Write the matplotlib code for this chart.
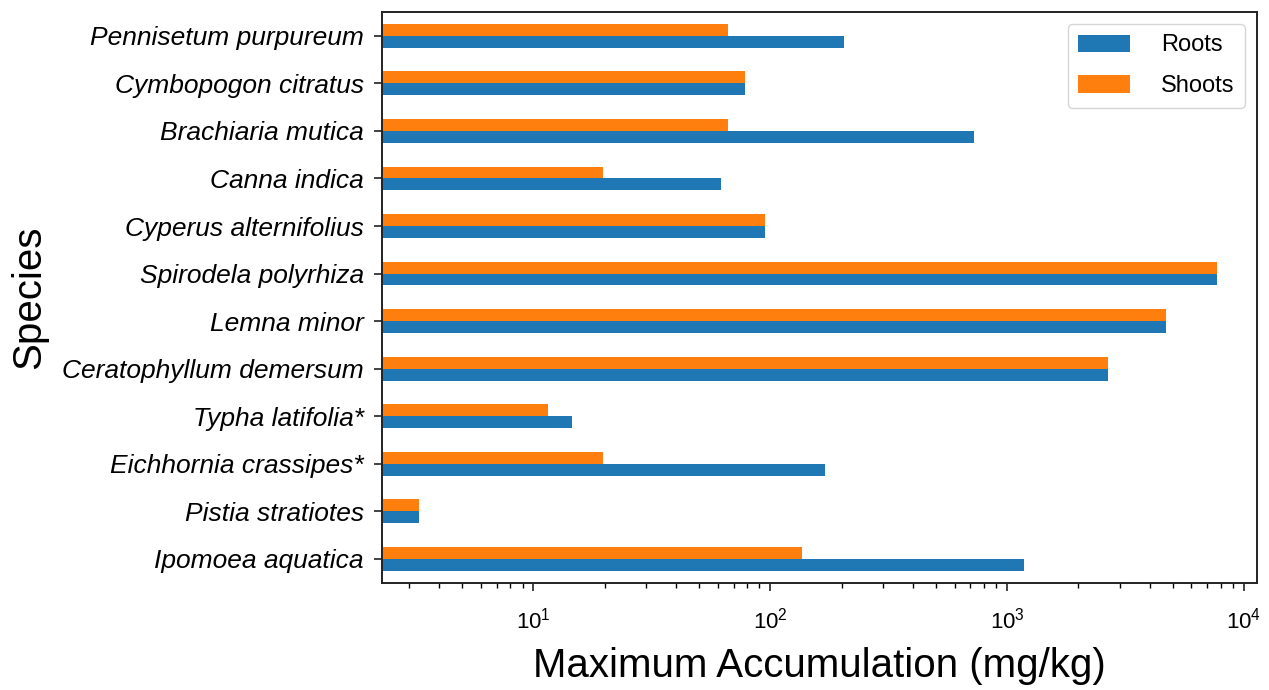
import matplotlib
matplotlib.use("Agg")
import matplotlib.pyplot as plt
import numpy as np

# Species, bottom to top as drawn
species = ["Ipomoea aquatica", "Pistia stratiotes", "Eichhornia crassipes*",
           "Typha latifolia*", "Ceratophyllum demersum", "Lemna minor",
           "Spirodela polyrhiza", "Cyperus alternifolius", "Canna indica",
           "Brachiaria mutica", "Cymbopogon citratus", "Pennisetum purpureum"]
roots = [1180, 3.3, 171, 14.5, 2670, 4670, 7730, 95, 62, 725, 78, 204]
shoots = [136, 3.3, 19.6, 11.5, 2670, 4670, 7730, 95, 19.6, 66.5, 78, 66.5]

plt.rcParams['font.family'] = ['Liberation Sans', 'DejaVu Sans']

fig = plt.figure(figsize=(12.69, 6.9), dpi=100)
ax = fig.add_axes([0.3008, 0.1555, 0.6897, 0.8271])

y = np.arange(len(species))
h = 0.25
ax.barh(y - h / 2, roots, height=h, color='#1f77b4', label='Roots')
ax.barh(y + h / 2, shoots, height=h, color='#ff7f0e', label='Shoots')

ax.set_xscale('log')
ax.set_xlim(2.29, 11350)
ax.set_ylim(-0.5, len(species) - 0.5)
ax.set_yticks(y)
ax.set_yticklabels(species, fontstyle='italic', fontsize=19)
ax.tick_params(axis='x', labelsize=16, length=6, width=1.2, color='#222222', pad=12)
ax.tick_params(axis='x', which='minor', length=3.5, width=1)
ax.tick_params(axis='y', length=6, width=1.2, color='#222222', pad=7)
for s in ax.spines.values():
    s.set_linewidth(1.4)
    s.set_color('#222222')

ax.set_xlabel('Maximum Accumulation (mg/kg)', fontsize=29, labelpad=10)
ax.set_ylabel('Species', fontsize=29, labelpad=10)

ax.legend(loc='upper right', fontsize=17, handlelength=2.2, handleheight=0.75,
          borderpad=0.45, labelspacing=0.8, handletextpad=1.3)

fig.savefig('out.png', dpi=100)
